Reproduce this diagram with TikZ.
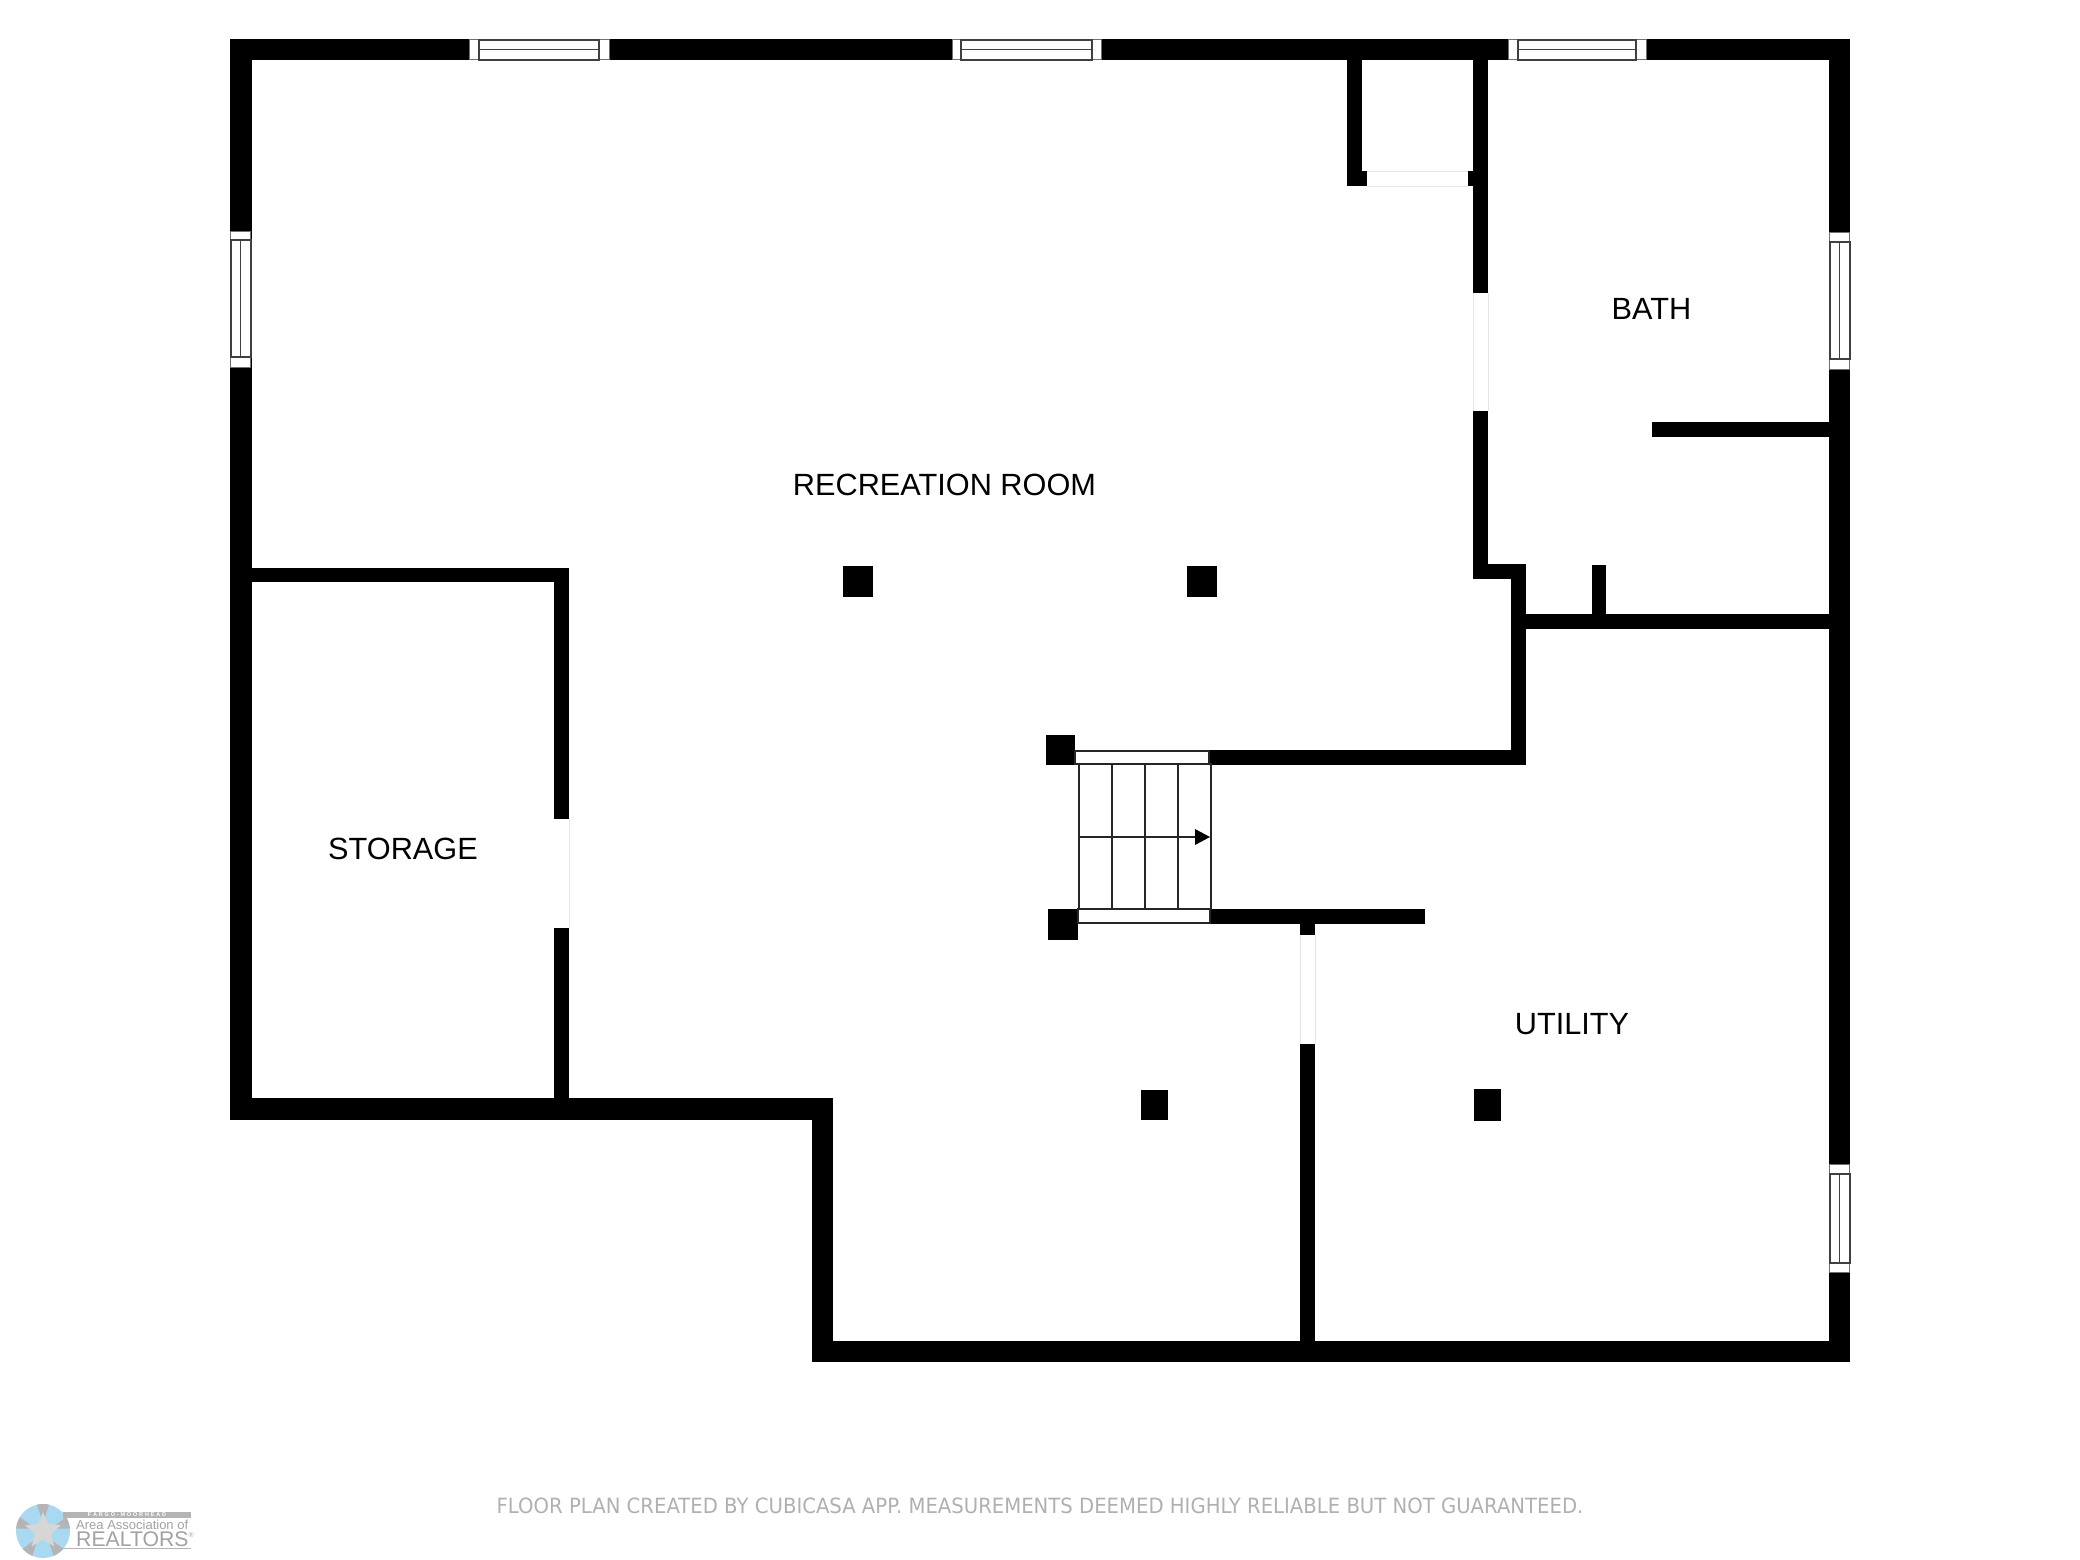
\documentclass[tikz,border=0pt]{standalone}
\usepackage{fontspec}
\setmainfont{Liberation Sans}
\newfontfamily\footfont[FakeStretch=0.936]{DejaVu Sans}
\usetikzlibrary{shapes.geometric}
\definecolor{footgray}{HTML}{B0B0B0}
\definecolor{logoblue}{HTML}{A9D9F0}
\definecolor{logogray}{HTML}{B4B4B4}
\definecolor{logostarfill}{HTML}{D6D6D6}
\definecolor{doorline}{HTML}{E6E6E6}
\definecolor{frameline}{HTML}{404040}
\definecolor{paneline}{HTML}{707070}
\tikzset{
  wallfill/.style={fill=black,draw=none},
  roomlabel/.style={font=\fontsize{30.7}{31}\selectfont,text=black,inner sep=0pt},
  framebox/.style={draw=frameline,line width=1.5pt},
  outerbox/.style={draw=paneline,line width=1pt,fill=white},
  doorgap/.style={draw=doorline,line width=1pt},
  stairline/.style={draw=black!85,line width=1.25pt},
  logotext/.style={inner sep=0pt,text=logogray!90!black,anchor=west}
}
\newcommand{\wallrect}[4]{\fill[wallfill] (#1,#2) rectangle (#3,#4);}
% horizontal window: x0 x1 y0 y1 xi0 xi1
\newcommand{\hwin}[6]{%
  \draw[outerbox] (#1,#3+.5) rectangle (#2,#4-.5);
  \draw[framebox] (#5,#3+1) rectangle (#6,#4);
  \draw[framebox] (#5,{(#3+#4)/2}) -- (#6,{(#3+#4)/2});}
% vertical window: y0 y1 x0 x1 yi0 yi1
\newcommand{\vwin}[6]{%
  \draw[outerbox] (#3+.5,#1) rectangle (#4-.5,#2);
  \draw[framebox] (#3+1,#5) rectangle (#4,#6);
  \draw[framebox] ({(#3+#4)/2},#5) -- ({(#3+#4)/2},#6);}
\begin{document}
\begin{tikzpicture}[x=1pt,y=-1pt]
\useasboundingbox (0,0) rectangle (2080,1560);
\fill[white] (0,0) rectangle (2080,1560);
% outer walls
\wallrect{230}{39}{1850}{60}
\wallrect{230}{39}{252}{1120}
\wallrect{1829}{39}{1850}{1362}
\wallrect{812}{1341}{1850}{1362}
\wallrect{230}{1098}{833}{1120}
\wallrect{812}{1098}{833}{1362}
% storage
\wallrect{252}{568}{569}{582}
\wallrect{554}{568}{569}{819}
\wallrect{554}{928}{569}{1120}
\draw[doorgap] (569,819) -- (569,928);
% closet
\wallrect{1347}{60}{1362}{186}
\wallrect{1347}{171}{1367}{186}
\wallrect{1468}{171}{1488}{186}
\draw[doorgap] (1367,171) -- (1468,171) (1367,186) -- (1468,186);
% bath walls
\wallrect{1473}{60}{1488}{293}
\wallrect{1473}{411}{1488}{579}
\draw[doorgap] (1473,293) -- (1473,411) (1488,293) -- (1488,411);
\wallrect{1473}{564}{1526}{579}
\wallrect{1511}{564}{1526}{765}
\wallrect{1209}{750}{1526}{765}
\wallrect{1526}{614}{1829}{629}
\wallrect{1592}{565}{1606}{614}
\wallrect{1652}{422}{1829}{437}
% utility walls
\wallrect{1210}{909}{1425}{924}
\wallrect{1300}{924}{1315}{935}
\wallrect{1300}{1044}{1315}{1341}
\draw[doorgap] (1300,935) -- (1300,1044) (1315,935) -- (1315,1044);
% posts
\wallrect{1046}{735}{1075}{765}
\wallrect{1048}{909}{1078}{940}
\wallrect{843}{566}{873}{597}
\wallrect{1187}{566}{1217}{597}
\wallrect{1141}{1090}{1168}{1120}
\wallrect{1474}{1089}{1501}{1121}
% stairs
\draw[stairline] (1079,764) rectangle (1211,909);
\draw[stairline] (1112,764) -- (1112,909) (1145,764) -- (1145,909) (1178,764) -- (1178,909);
\draw[stairline] (1079,837) -- (1196,837);
\fill[black] (1195,829) -- (1210,837) -- (1195,845) -- cycle;
\draw[stairline] (1075,751) rectangle (1209,764);
\draw[stairline] (1078,909) rectangle (1210,923);
% windows
\hwin{469}{609}{39}{60}{479}{599}
\hwin{952}{1101}{39}{60}{961}{1092}
\hwin{1508}{1646}{39}{60}{1518}{1636}
\vwin{231}{367}{230}{251}{240}{357}
\vwin{232}{369}{1829}{1850}{242}{359}
\vwin{1164}{1272}{1829}{1850}{1174}{1263}
% labels
\node[roomlabel] (rec) at (944.5,485) {RECREATION ROOM};
\node[roomlabel] (bath) at (1651.5,309) {BATH};
\node[roomlabel] (storage) at (403,849) {STORAGE};
\node[roomlabel] (utility) at (1572,1024) {UTILITY};
\node[inner sep=0pt,text=footgray,font=\footfont\fontsize{21}{21}\selectfont] (foot) at (1040,1506) {FLOOR PLAN CREATED BY CUBICASA APP. MEASUREMENTS DEEMED HIGHLY RELIABLE BUT NOT GUARANTEED.};
% logo
\fill[logoblue] (43,1531) circle (27);
\begin{scope}[shift={(43,1531)},y=1pt]
  \foreach \a in {90,18,-54,-126,162}{
    \fill[logogray] (\a:8) -- (\a+13:27) arc[start angle=\a+13,end angle=\a-13,radius=27] -- cycle;
  }
\end{scope}
\node[star,star points=5,star point ratio=2.2,fill=logostarfill,draw=none,minimum size=38pt,inner sep=0pt] (logostar) at (43,1531) {};
\fill[logogray] (63,1512) rectangle (191,1518);
\node[inner sep=0pt,text=white,font=\fontsize{5.5}{6}\bfseries\selectfont] (fm) at (127,1515) {F\,\,A\,\,R\,\,G\,\,O\,\,-\,\,M\,\,O\,\,O\,\,R\,\,H\,\,E\,\,A\,\,D};
\node[logotext,font=\fontsize{13}{13}\selectfont] (assoc) at (76,1525) {Area Association of};
\node[logotext,font=\fontsize{21.2}{22}\selectfont] (realtors) at (76,1539.5) {REALTORS\raisebox{.42em}{\fontsize{7}{7}\selectfont ®}};
\fill[logogray] (63,1547.5) rectangle (191,1548.5);
\end{tikzpicture}
\end{document}
